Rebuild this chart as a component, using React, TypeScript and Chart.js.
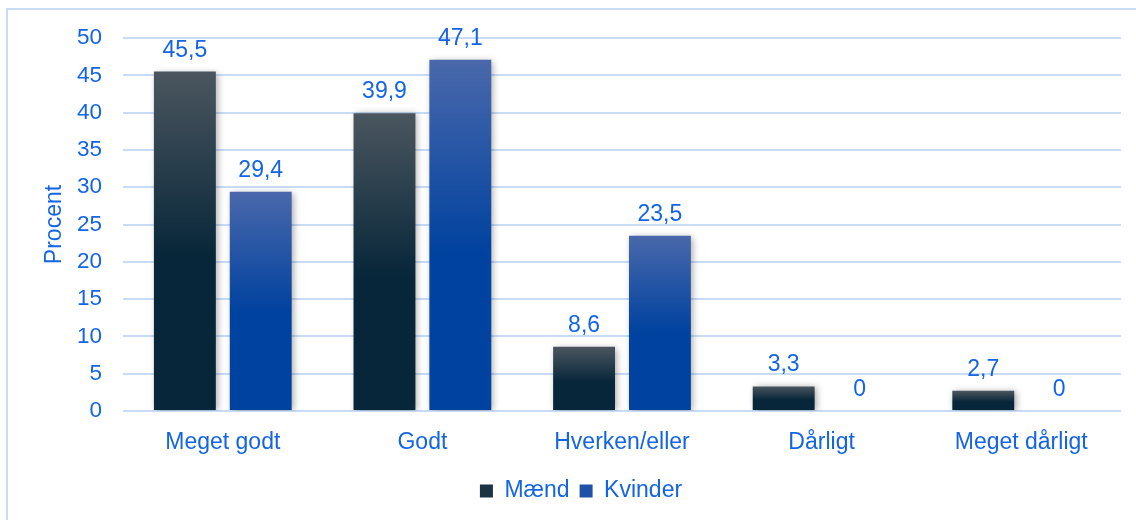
import React, { useEffect, useRef } from "react";
import { Chart, registerables } from "chart.js";

Chart.register(...registerables);

const categories = ["Meget godt", "Godt", "Hverken/eller", "Dårligt", "Meget dårligt"];
const maend = [45.5, 39.9, 8.6, 3.3, 2.7];
const kvinder = [29.4, 47.1, 23.5, 0, 0];
const seriesNames = ["Mænd", "Kvinder"];
const yTitle = "Procent";

const BLUE = "#1464e6";
const GRID = "#c8dbf7";
const FONT = "'Liberation Sans', Arial, sans-serif";

function barGradient(topColor: string, bottomColor: string) {
  return (ctx: any) => {
    if (ctx.type !== "data") return bottomColor;
    const chart = ctx.chart;
    const y = chart.scales && chart.scales.y;
    if (!y) return bottomColor;
    const v = ctx.parsed ? ctx.parsed.y : ctx.raw;
    const top = y.getPixelForValue(v);
    const base = y.getPixelForValue(0);
    if (!isFinite(top) || !isFinite(base) || base - top < 1) return bottomColor;
    const g = chart.ctx.createLinearGradient(0, top, 0, base);
    g.addColorStop(0, topColor);
    g.addColorStop(0.55, bottomColor);
    g.addColorStop(1, bottomColor);
    return g;
  };
}

const framePlugin = {
  id: "frame",
  beforeDraw(chart: any) {
    const c = chart.ctx;
    c.save();
    c.strokeStyle = GRID;
    c.lineWidth = 2;
    c.strokeRect(7, 9, 1160, 560);
    c.restore();
  },
};

const shadowPlugin = {
  id: "barShadow",
  beforeDatasetsDraw(chart: any) {
    const c = chart.ctx;
    c.save();
    c.shadowColor = "rgba(0,0,0,0.35)";
    c.shadowBlur = 7;
    c.shadowOffsetX = 2;
    c.shadowOffsetY = 1;
  },
  afterDatasetsDraw(chart: any) {
    chart.ctx.restore();
    const c = chart.ctx;
    c.save();
    c.fillStyle = BLUE;
    c.font = `23px ${FONT}`;
    c.textAlign = "center";
    c.textBaseline = "alphabetic";
    chart.data.datasets.forEach((ds: any, i: number) => {
      const meta = chart.getDatasetMeta(i);
      meta.data.forEach((bar: any, j: number) => {
        const v = ds.data[j];
        c.fillText(String(v).replace(".", ","), bar.x, bar.y - 15);
      });
    });
    c.restore();
  },
};

export default function App() {
  const ref = useRef<HTMLCanvasElement | null>(null);
  useEffect(() => {
    if (!ref.current) return;
    const chart = new Chart(ref.current, {
      type: "bar",
      data: {
        labels: categories,
        datasets: [
          {
            label: seriesNames[0],
            data: maend,
            backgroundColor: barGradient("#4b565f", "#072639"),
            barPercentage: 0.816,
            categoryPercentage: 0.76,
          },
          {
            label: seriesNames[1],
            data: kvinder,
            backgroundColor: barGradient("#4a68ab", "#00429f"),
            barPercentage: 0.816,
            categoryPercentage: 0.76,
          },
        ],
      },
      options: {
        responsive: false,
        animation: false,
        layout: { padding: { left: 41, right: 15, top: 38, bottom: 7.5 } },
        plugins: {
          tooltip: { enabled: false },
          legend: {
            position: "bottom",
            labels: {
              color: BLUE,
              font: { family: FONT, size: 23 },
              boxWidth: 13,
              boxHeight: 13,
              padding: 10,
              generateLabels: () => [
                { text: seriesNames[0], fillStyle: "#1c3343", strokeStyle: "#1c3343", lineWidth: 0, datasetIndex: 0, fontColor: BLUE },
                { text: seriesNames[1], fillStyle: "#1f51a8", strokeStyle: "#1f51a8", lineWidth: 0, datasetIndex: 1, fontColor: BLUE },
              ],
            },
          },
        },
        scales: {
          x: {
            grid: { display: false, drawTicks: false },
            border: { display: false },
            ticks: { color: BLUE, font: { family: FONT, size: 23 }, padding: 18 },
            afterFit: (s: any) => {
              s.height = 58.5;
            },
          },
          y: {
            min: 0,
            max: 50,
            ticks: { stepSize: 5, color: BLUE, font: { family: FONT, size: 22.5 }, padding: 21 },
            grid: { color: GRID, lineWidth: 2, drawTicks: false },
            border: { display: false },
            title: { display: true, text: yTitle, color: BLUE, font: { family: FONT, size: 23 }, padding: 0 },
            afterFit: (s: any) => {
              s.width = 82;
            },
          },
        },
      },
      plugins: [framePlugin, shadowPlugin],
    } as any);
    return () => chart.destroy();
  }, []);
  return (
    <div style={{ position: "absolute", left: 0, top: 0, width: 1136, height: 520, background: "#fff" }}>
      <canvas ref={ref} width={1136} height={520} />
    </div>
  );
}
